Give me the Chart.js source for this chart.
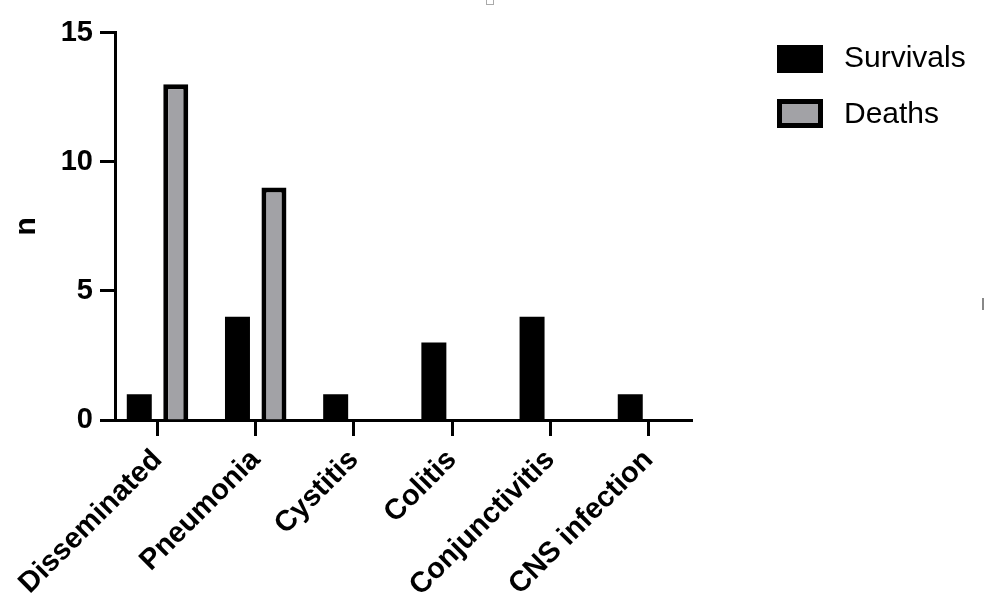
<!DOCTYPE html>
<html>
<head>
<meta charset="utf-8">
<script src="https://cdn.jsdelivr.net/npm/chart.js@4.4.1/dist/chart.umd.min.js"></script>
<style>
html,body{margin:0;padding:0;background:#fff;}
#wrap{position:relative;width:986px;height:600px;overflow:hidden;background:#fff;}
#c{position:absolute;left:0;top:0;}
.sw{position:absolute;box-sizing:border-box;}
.lt{position:absolute;font-family:'Liberation Sans',Arial,Helvetica,sans-serif;font-size:30px;line-height:30px;color:#000;white-space:nowrap;}
</style>
</head>
<body>
<div id="wrap">
  <canvas id="c" width="986" height="600"></canvas>
  <div class="sw" style="left:777px;top:45px;width:46px;height:28px;background:#000;"></div>
  <div class="lt" id="l0" style="left:844px;top:42px;"></div>
  <div class="sw" style="left:777px;top:99px;width:46px;height:29px;background:#a2a2a6;border:5px solid #000;"></div>
  <div class="lt" id="l1" style="left:844px;top:98px;"></div>
  <div class="sw" style="left:486px;top:-3px;width:8px;height:8px;border:1px solid #aaa;"></div>
  <div class="sw" style="left:982px;top:298px;width:2px;height:12px;background:#888;"></div>
</div>
<script>
const categories = ['Disseminated', 'Pneumonia', 'Cystitis', 'Colitis', 'Conjunctivitis', 'CNS infection'];
const survivals = [1, 4, 1, 3, 4, 1];
const deaths = [13, 9, 0, 0, 0, 0];
const yTicks = [0, 5, 10, 15];
const seriesNames = ['Survivals', 'Deaths'];
const yTitle = 'n';

document.getElementById('l0').textContent = seriesNames[0];
document.getElementById('l1').textContent = seriesNames[1];

const FONT = "'Liberation Sans', Arial, Helvetica, sans-serif";
const toPoints = arr => arr.map((v, i) => ({ x: i, y: v }));

new Chart(document.getElementById('c'), {
  type: 'bar',
  data: {
    datasets: [
      {
        label: seriesNames[0],
        data: toPoints(survivals),
        backgroundColor: '#000',
        borderColor: '#000',
        borderWidth: 0,
        categoryPercentage: 0.743,
        barPercentage: 0.685
      },
      {
        label: seriesNames[1],
        data: toPoints(deaths),
        backgroundColor: '#a2a2a6',
        borderColor: '#000',
        borderWidth: 5,
        borderSkipped: 'start',
        categoryPercentage: 0.743,
        barPercentage: 0.685
      }
    ]
  },
  options: {
    responsive: false,
    animation: false,
    devicePixelRatio: 1,
    layout: { padding: { left: 0, right: 294, top: 32.5, bottom: 0 } },
    plugins: { legend: { display: false }, tooltip: { enabled: false } },
    scales: {
      x: {
        type: 'linear',
        min: -0.433,
        max: 5.443,
        offset: false,
        z: 1,
        afterBuildTicks: s => { s.ticks = categories.map((_, i) => ({ value: i })); },
        afterFit: s => { s.height = 180; s.paddingLeft = 0; s.paddingRight = 0; },
        grid: { offset: false, drawOnChartArea: false, drawTicks: true, tickLength: 16, tickWidth: 3, tickColor: '#000', color: '#000' },
        border: { display: true, color: '#000', width: 3 },
        ticks: {
          autoSkip: false,
          minRotation: 45,
          maxRotation: 45,
          padding: 7,
          color: '#000',
          font: { family: FONT, size: 29, weight: 'bold' },
          callback: v => categories[v]
        }
      },
      y: {
        min: 0,
        max: 15,
        afterBuildTicks: s => { s.ticks = yTicks.map(v => ({ value: v })); },
        afterFit: s => { s.width = 115; },
        grid: { drawOnChartArea: false, drawTicks: true, tickLength: 15, tickWidth: 3, tickColor: '#000', color: '#000' },
        border: { display: true, color: '#000', width: 3 },
        ticks: { padding: 7, color: '#000', font: { family: FONT, size: 29, weight: 'bold' } },
        title: { display: true, text: yTitle, color: '#000', font: { family: FONT, size: 30, weight: 'bold' }, padding: { top: 9, bottom: 0 } }
      }
    }
  }
});
</script>
</body>
</html>
